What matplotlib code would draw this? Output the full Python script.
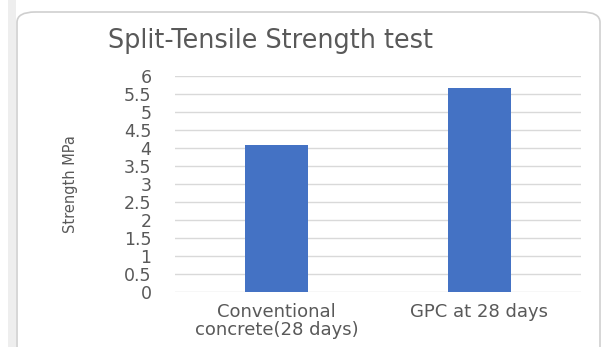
import matplotlib
matplotlib.use("Agg")
import matplotlib.pyplot as plt
from matplotlib.patches import FancyBboxPatch, Rectangle

categories = ["Conventional\nconcrete(28 days)", "GPC at 28 days"]
strength = [4.08, 5.67]
yticks = [0, 0.5, 1, 1.5, 2, 2.5, 3, 3.5, 4, 4.5, 5, 5.5, 6]
ytick_labels = ["0", "0.5", "1", "1.5", "2", "2.5", "3", "3.5", "4", "4.5", "5", "5.5", "6"]

plt.rcParams["font.family"] = ["DejaVu Sans"]
text_gray = "#595959"

fig = plt.figure(figsize=(6.06, 3.47), dpi=100)
fig.patch.set_facecolor("white")

# chart card background with rounded border
card = FancyBboxPatch((17 / 606, -0.05), (600 - 17) / 606, (347 - 12) / 347 + 0.05,
                      boxstyle="round,pad=0,rounding_size=0.03",
                      transform=fig.transFigure, facecolor="white",
                      edgecolor="#cfcfcf", linewidth=1.2, zorder=-10)
fig.patches.append(card)
strip = Rectangle((8 / 606, 0), 8 / 606, 1, transform=fig.transFigure,
                  facecolor="#eeeeee", edgecolor="none", zorder=-10)
fig.patches.append(strip)

ax = fig.add_axes([175 / 606, 1 - 291.7 / 347, (581 - 175) / 606, (291.7 - 76) / 347])
ax.set_facecolor("none")
x = range(len(categories))
ax.bar(x, strength, width=0.31, color="#4472C4", zorder=3)
ax.set_xlim(-0.5, len(categories) - 0.5)
ax.set_ylim(0, 6)
ax.set_yticks(yticks)
ax.set_yticklabels(ytick_labels)
ax.set_xticks(list(x))
ax.set_xticklabels(categories, linespacing=1.0)
ax.grid(axis="y", color="#d9d9d9", linewidth=1, zorder=0)
ax.set_axisbelow(True)
for s in ax.spines.values():
    s.set_visible(False)
ax.tick_params(axis="y", length=0, colors=text_gray, labelsize=12.5, pad=17)
ax.tick_params(axis="x", length=0, colors=text_gray, labelsize=13, pad=8)

ax.set_ylabel("Strength MPa", color=text_gray, fontsize=10.5, labelpad=33)
fig.text(270 / 606, 1 - 41 / 347, "Split-Tensile Strength test", ha="center", va="center",
         fontsize=18.4, color=text_gray)

fig.savefig("out.png", dpi=100, facecolor="white")
